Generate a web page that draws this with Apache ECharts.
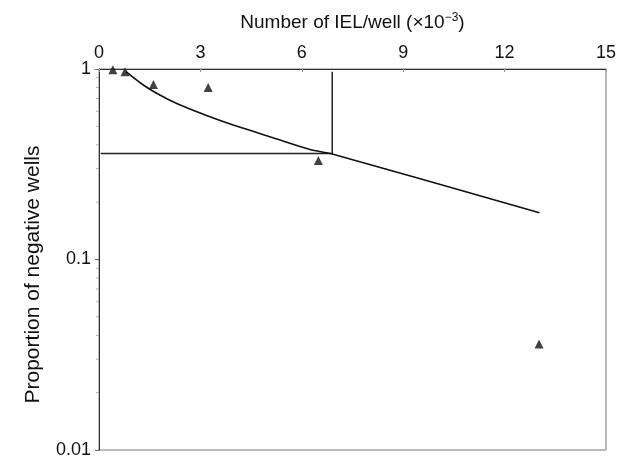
<!DOCTYPE html>
<html>
<head>
<meta charset="utf-8">
<script src="https://cdn.jsdelivr.net/npm/echarts@6/dist/echarts.min.js"></script>
<style>
html,body{margin:0;padding:0;background:#fff;}
#chart{width:621px;height:456px;}
</style>
</head>
<body>
<div id="chart"></div>
<script>
// Observed data (triangles)
var obsX = [0.41, 0.77, 1.61, 3.23, 6.49, 13.02];
var obsY = [0.99, 0.968, 0.83, 0.80, 0.331, 0.036];
// Fitted curve
var fitX = [0.8, 1.31, 1.8, 2.3, 3.28, 4.27, 5.26, 6.24, 6.9, 13.03];
var fitY = [0.968, 0.824, 0.73, 0.659, 0.562, 0.488, 0.429, 0.378, 0.358, 0.176];
// Reading lines (50% point)
var readX = [0.05, 6.9, 6.9];
var readY = [0.36, 0.36, 0.968];
// Axis ticks
var xTicks = [0, 3, 6, 9, 12, 15];
var yMinorTicks = [0.2, 0.3, 0.4, 0.5, 0.6, 0.7, 0.8, 0.9, 0.02, 0.03, 0.04, 0.05, 0.06, 0.07, 0.08, 0.09];

function zip(a, b) { return a.map(function (v, i) { return [v, b[i]]; }); }

var chart = echarts.init(document.getElementById('chart'), null, {renderer: 'canvas'});
var font = 'Liberation Sans, Arial, sans-serif';
chart.setOption({
  animation: false,
  backgroundColor: '#fff',
  grid: {left: 99, right: 15, top: 69, bottom: 6, show: true, borderColor: '#777', borderWidth: 1,
    containLabel: false, outerBoundsMode: 'none'},
  xAxis: {
    type: 'value', position: 'top', min: xTicks[0], max: xTicks[xTicks.length - 1], interval: 3,
    name: 'Number of IEL/well (\u00d710{sup|\u22123})',
    nameLocation: 'middle', nameGap: 35,
    nameTextStyle: {fontFamily: font, fontSize: 19, color: '#111',
      rich: {sup: {fontSize: 12, verticalAlign: 'top', padding: [0, 0, 10, 0], fontFamily: font, color: '#111'}}},
    axisLine: {lineStyle: {color: '#333', width: 1}},
    axisTick: {inside: true, length: 3, lineStyle: {color: '#999'}},
    axisLabel: {fontFamily: font, fontSize: 18, color: '#111', margin: 7},
    splitLine: {show: false}
  },
  yAxis: {
    type: 'log', logBase: 10, min: 0.01, max: 1,
    name: 'Proportion of negative wells',
    nameLocation: 'middle', nameGap: 55, nameRotate: 90,
    nameTextStyle: {fontFamily: font, fontSize: 21, color: '#111', padding: [0, 30, 0, 0]},
    axisLine: {lineStyle: {color: '#333', width: 1}},
    axisTick: {length: 4, lineStyle: {color: '#666'}},
    axisLabel: {fontFamily: font, fontSize: 18, color: '#111', margin: 8,
      formatter: function (v) { return String(+v.toPrecision(3)); }},
    splitLine: {show: false}
  },
  series: [
    {
      type: 'scatter', data: yMinorTicks.map(function (v) { return [0, v]; }),
      symbol: 'rect', symbolSize: [3, 1], symbolOffset: [-1.5, 0],
      itemStyle: {color: '#999'}, clip: false, silent: true, z: 1
    },
    {
      type: 'line', data: zip(readX, readY), showSymbol: false,
      lineStyle: {color: '#222', width: 1.5}, z: 2
    },
    {
      type: 'line', data: zip(fitX, fitY), showSymbol: false, smooth: 0.3,
      lineStyle: {color: '#111', width: 1.6}, z: 3
    },
    {
      type: 'scatter', data: zip(obsX, obsY), symbol: 'triangle', symbolSize: 9,
      itemStyle: {color: '#111'}, clip: false, z: 4
    }
  ]
});
</script>
</body>
</html>
